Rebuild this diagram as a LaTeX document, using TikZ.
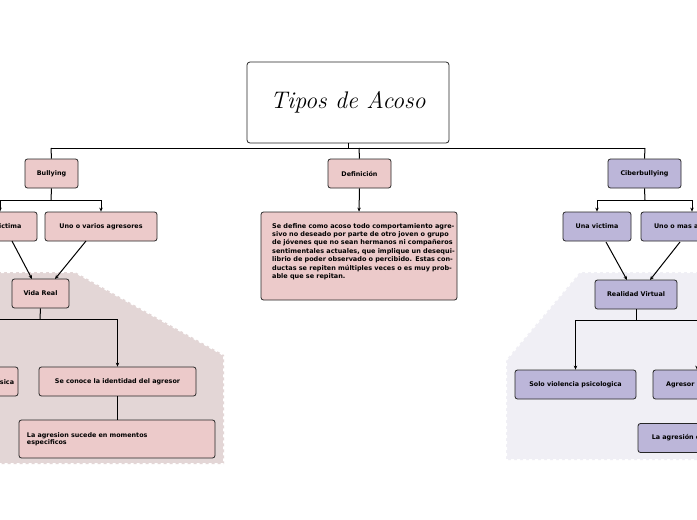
\documentclass[tikz,border=0pt]{standalone}
\usepackage{fontspec}
\setsansfont{DejaVu Sans}
\usetikzlibrary{arrows.meta}
\definecolor{pk}{HTML}{ECCACA}
\definecolor{pu}{HTML}{BCB6D9}
\definecolor{bgp}{HTML}{E3D6D6}
\definecolor{bgu}{HTML}{F0EFF5}
\begin{document}
\begin{tikzpicture}[x=1pt,y=-1pt,
  bx/.style={draw=black!85,line width=0.8pt,rounded corners=2.5pt,font=\sffamily\bfseries\fontsize{6.4}{7.5}\selectfont,align=center,inner sep=0pt},
  ln/.style={line width=1pt},
  ar/.style={line width=1pt,-{Stealth[length=4pt,width=3.5pt]}}]
\useasboundingbox (0,0) rectangle (697,520);
\clip (0,0) rectangle (697,520);
\fill[white] (0,0) rectangle (697,520);
% backgrounds
\draw[fill=bgp,draw=white,line width=2pt,dash pattern=on 3pt off 3pt] (-5,272) -- (75,272) -- (224,355) -- (224,464) -- (-5,464) -- cycle;
\draw[fill=bgu,draw=white,line width=2pt,dash pattern=on 3pt off 3pt] (702,272) -- (580,272) -- (506,360) -- (506,460) -- (702,460) -- cycle;
% title
\node[draw=black!85,line width=0.8pt,rounded corners=3pt,minimum width=202pt,minimum height=81pt,font=\itshape\fontsize{24}{28}\selectfont] (title) at (348,102.5) {Tipos de Acoso};
% level 1
\node[bx,fill=pk,minimum width=53pt,minimum height=29pt] (bul) at (51.5,173.5) {Bullying};
\node[bx,fill=pk,minimum width=63pt,minimum height=29pt] (def) at (359.5,173.5) {Definición};
\node[bx,fill=pu,minimum width=73pt,minimum height=29pt] (cib) at (644.5,173.5) {Ciberbullying};
\coordinate (t1) at (348,148);
\draw[ln] (title.south) -- (t1);
\draw[ln] (51,148) -- (645,148);
\draw[ln] (51,148) -- (bul.north);
\draw[ln] (645,148) -- (cib.north);
\draw[ln] (359,148) -- (def.north);
% definition
\node[bx,fill=pk,minimum width=196pt,minimum height=88pt,align=left,text width=196pt] (dtx) at (359,256) {};
\node[anchor=north west,inner sep=0pt,text width=184pt,align=left,font=\sffamily\bfseries\fontsize{6.5}{8.4}\selectfont] (dtt) at (272,223) {\lefthyphenmin=64 \righthyphenmin=64 Se define como acoso todo comportamiento agresivo no deseado por parte de otro joven o grupo de jóvenes que no sean hermanos ni compañeros sentimentales actuales, que implique un desequilibrio de poder observado o percibido. Estas conductas se repiten múltiples veces o es muy probable que se repitan.};
\draw[ar] (def.south) -- (dtx.north);
% bullying branch
\node[bx,fill=pk,minimum width=74pt,minimum height=29pt] (uv1) at (0,226.5) {Una victima};
\node[bx,fill=pk,minimum width=112pt,minimum height=29pt] (ag1) at (101,226.5) {Uno o varios agresores};
\draw[ln] (bul.south) -- (51,200);
\draw[ar] (51,200) -| (uv1.north);
\draw[ar] (51,200) -| (ag1.north);
\node[bx,fill=pk,minimum width=57pt,minimum height=29pt] (vr) at (40.5,293.5) {Vida Real};
\draw[ar] (12,241) -- (32,279);
\draw[ar] (86,241) -- (55,279);
\node[bx,fill=pk,minimum width=62pt,minimum height=29pt] (vf) at (-13,381.5) {Violencia física};
\node[bx,fill=pk,minimum width=157pt,minimum height=29pt] (sc) at (117.5,381.5) {Se conoce la identidad del agresor};
\draw[ln] (vr.south) -- (40,319);
\draw[ar] (40,319) -| (vf.north);
\draw[ar] (40,319) -| (sc.north);
\node[bx,fill=pk,minimum width=196pt,minimum height=38pt,align=left,text width=180pt] (la1) at (117,439) {La agresion sucede en momentos\\especificos};
\draw[ln] (sc.south) -- (la1.north -| sc.south);
% ciberbullying branch
\node[bx,fill=pu,minimum width=68pt,minimum height=29pt] (uv2) at (597,226.5) {Una victima};
\node[bx,fill=pu,minimum width=102pt,minimum height=29pt] (ag2) at (692,226.5) {Uno o mas agresores};
\draw[ln] (cib.south) -- (645,200);
\draw[ar] (645,200) -| (uv2.north);
\draw[ar] (645,200) -| (ag2.north);
\node[bx,fill=pu,minimum width=82pt,minimum height=29pt] (rv) at (636,294.5) {Realidad Virtual};
\draw[ar] (606,242) -- (627,280);
\draw[ar] (680,242) -- (650,280);
\node[bx,fill=pu,minimum width=121pt,minimum height=29pt] (sv) at (575.5,384.5) {Solo violencia psicologica};
\node[bx,fill=pu,minimum width=88pt,minimum height=29pt] (an) at (697,384.5) {Agresor anónimo};
\draw[ln] (rv.south) -- (636,320);
\draw[ar] (636,320) -| (sv.north);
\draw[ar] (636,320) -| (an.north);
\node[bx,fill=pu,minimum width=118pt,minimum height=29pt] (la2) at (697,438) {La agresión es constante};
\draw[ln] (an.south) -- (la2.north);
\end{tikzpicture}
\end{document}
